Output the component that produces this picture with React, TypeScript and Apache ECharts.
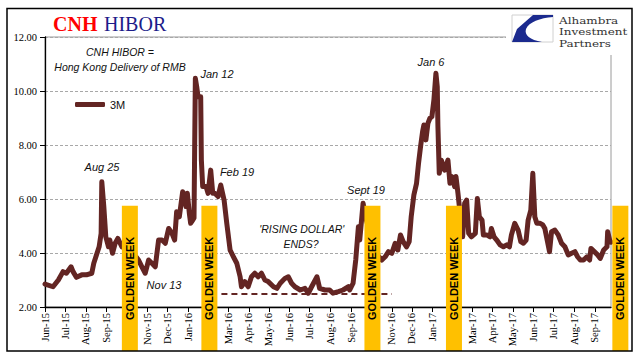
import React, { useEffect, useRef } from "react";
import * as echarts from "echarts";

// ---------- data ----------
const startDate = "2015-06-01";
const endDate = "2017-09-25";
const barsEndDate = "2017-10-23";

const dates = [
  "2015-06-01","2015-06-13","2015-06-21","2015-06-28","2015-07-03","2015-07-10","2015-07-13","2015-07-18","2015-07-26",
  "2015-08-02","2015-08-10","2015-08-13","2015-08-17","2015-08-21","2015-08-24","2015-08-25","2015-08-28","2015-08-31",
  "2015-09-04","2015-09-06","2015-09-10","2015-09-14","2015-09-18","2015-09-24","2015-09-28","2015-10-06","2015-10-14",
  "2015-10-19","2015-10-24","2015-10-29","2015-11-03","2015-11-08","2015-11-13","2015-11-18","2015-11-23","2015-11-28",
  "2015-12-03","2015-12-08","2015-12-12","2015-12-15","2015-12-19","2015-12-24","2015-12-27","2015-12-29","2015-12-31",
  "2016-01-03","2016-01-05","2016-01-08","2016-01-10","2016-01-11","2016-01-12","2016-01-14","2016-01-16","2016-01-20",
  "2016-01-21","2016-01-23","2016-01-28","2016-01-31","2016-02-04","2016-02-07","2016-02-10","2016-02-15","2016-02-19",
  "2016-02-24","2016-02-28","2016-03-04","2016-03-09","2016-03-14","2016-03-19","2016-03-21","2016-03-26","2016-03-31",
  "2016-04-05","2016-04-10","2016-04-15","2016-04-20","2016-04-25","2016-04-30","2016-05-08","2016-05-13","2016-05-18",
  "2016-05-25","2016-05-30","2016-06-04","2016-06-09","2016-06-17","2016-06-24","2016-06-29","2016-07-04","2016-07-12",
  "2016-07-16","2016-07-24","2016-07-31","2016-08-05","2016-08-13","2016-08-20","2016-08-28","2016-08-30","2016-09-04",
  "2016-09-08","2016-09-12","2016-09-14","2016-09-19","2016-09-23","2016-10-01","2016-10-08","2016-10-17","2016-10-22",
  "2016-10-27","2016-11-01","2016-11-06","2016-11-10","2016-11-14","2016-11-18","2016-11-23","2016-11-27","2016-11-30",
  "2016-12-04","2016-12-08","2016-12-11","2016-12-14","2016-12-17","2016-12-19","2016-12-22","2016-12-25","2016-12-28",
  "2016-12-31","2017-01-03","2017-01-06","2017-01-08","2017-01-09","2017-01-11","2017-01-14","2017-01-19","2017-01-24",
  "2017-01-27","2017-01-30","2017-02-03","2017-02-05","2017-02-08","2017-02-11","2017-02-14","2017-02-15","2017-02-18",
  "2017-02-21","2017-02-24","2017-02-28","2017-03-06","2017-03-09","2017-03-12","2017-03-16","2017-03-18","2017-03-23",
  "2017-03-28","2017-03-30","2017-04-03","2017-04-07","2017-04-12","2017-04-17","2017-04-22","2017-04-26","2017-04-29",
  "2017-05-04","2017-05-09","2017-05-13","2017-05-17","2017-05-21","2017-05-24","2017-05-28","2017-05-31","2017-06-03",
  "2017-06-06","2017-06-11","2017-06-15","2017-06-18","2017-06-22","2017-06-25","2017-06-28","2017-07-03","2017-07-08",
  "2017-07-13","2017-07-18","2017-07-23","2017-07-28","2017-08-02","2017-08-06","2017-08-10","2017-08-15","2017-08-20",
  "2017-08-24","2017-08-26","2017-08-31","2017-09-05","2017-09-09","2017-09-14","2017-09-19","2017-09-20","2017-09-23",
  "2017-09-25",
];

const hibor3M = [
  2.85,2.75,3.0,3.31,3.25,3.49,3.31,3.10,3.19,
  3.19,3.25,3.62,3.93,4.23,4.73,6.64,5.72,4.6,
  4.23,4.48,3.99,4.36,4.54,4.23,4.3,4.1,3.9,
  3.74,3.49,3.25,3.74,3.62,3.49,4.48,4.48,4.36,
  4.91,4.73,4.48,5.53,5.34,6.27,6.09,5.72,6.21,
  5.47,5.1,5.22,5.3,8.0,10.47,10.16,9.79,9.79,
  7.44,6.46,6.46,6.21,7.07,6.21,6.21,6.09,6.52,
  5.96,5.1,4.11,3.86,3.62,3.12,2.75,2.94,2.75,
  3.12,3.25,3.12,3.25,3.0,2.94,2.75,2.69,2.88,
  3.06,3.12,2.88,2.75,2.63,2.69,2.51,2.75,3.12,
  2.69,2.63,2.63,2.51,2.57,2.63,2.75,2.63,2.88,
  3.74,4.97,4.48,5.84,5.3,4.6,4.0,3.74,3.86,
  4.05,3.99,4.36,4.11,4.67,4.42,4.23,4.42,5.34,
  6.15,6.58,7.32,7.94,8.49,8.74,8.19,8.8,8.99,
  9.05,9.67,10.66,10.16,8.68,6.95,7.44,7.07,7.44,
  6.58,6.83,6.46,6.83,6.21,5.5,5.0,4.6,5.84,
  5.96,4.73,4.6,4.73,6.02,5.34,5.22,4.67,4.67,
  4.6,4.91,4.6,4.48,4.30,4.23,4.30,4.23,4.67,
  5.1,4.85,4.42,4.36,4.48,5.22,5.59,6.95,5.34,
  5.1,5.1,5.04,4.91,4.42,4.05,4.79,4.85,4.67,
  4.36,4.23,3.93,3.99,4.05,3.86,3.74,3.74,3.86,
  3.74,4.17,4.05,3.93,3.8,4.11,4.23,4.79,4.48,
  4.4,
];

const goldenWeekDates = ["2015-10-06", "2016-02-02", "2016-10-03", "2017-02-02", "2017-10-09"];
const goldenWeekTop = 5.75;
const goldenWeekLabel = "GOLDEN WEEK";

const dollarFloor = { from: "2016-02-20", to: "2016-11-01", value: 2.5 };

const monthNames = ["Jan", "Feb", "Mar", "Apr", "May", "Jun", "Jul", "Aug", "Sep", "Oct", "Nov", "Dec"];
const hiddenLabelMonths = ["10", "02"];

const yMin = 2;
const yMax = 12;
const yInterval = 2;

const seriesName = "3M";
const logoLines = ["Alhambra", "Investment", "Partners"];

// ---------- helpers ----------
function dayRange(start: string, end: string): string[] {
  const out: string[] = [];
  const s = new Date(start + "T00:00:00Z").getTime();
  const e = new Date(end + "T00:00:00Z").getTime();
  for (let t = s; t <= e; t += 86400000) {
    out.push(new Date(t).toISOString().slice(0, 10));
  }
  return out;
}

const days = dayRange(startDate, endDate);
const barDays = dayRange(startDate, barsEndDate);

const GRID_LEFT = 45;
const GRID_TOP = 37;
const GRID_W = 566;
const GRID_H = 270;
const PX_PER_UNIT = GRID_H / (yMax - yMin);
const FRAME_BOTTOM = 351;
const grid2H = FRAME_BOTTOM - GRID_TOP;
const grid2W = ((barDays.length - 1) * GRID_W) / (days.length - 1);
const grid2Min = yMax - grid2H / PX_PER_UNIT;

const LINE_COLOR = "#632523";
const SANS = "'Liberation Sans', Arial, sans-serif";
const SERIF = "'Liberation Serif', 'Times New Roman', serif";
const LOGO_FONT = "10px 'DejaVu Serif', serif";

const logoPath = "M41 0 L21 0 L5 14 L0 27 L30 27 C18 25 12 20 14 14 C17 7 28 3 41 2 Z";

export default function App() {
  const ref = useRef<HTMLDivElement>(null);

  useEffect(() => {
    if (!ref.current) return;
    try {
      echarts.graphic.registerShape("logo", echarts.graphic.extendPath(logoPath, {}) as any);
    } catch (e) {}
    const chart = echarts.init(ref.current, undefined, { renderer: "svg" });

    const note = (text: string, x: number, y: number, size = 11) => ({
      type: "text",
      x,
      y,
      z: 50,
      style: {
        text,
        fill: "#111",
        font: `italic ${size}px ${SANS}`,
        align: "center",
        verticalAlign: "middle",
      },
    });

    const option: any = {
      animation: false,
      backgroundColor: "#fff",
      grid: [
        {
          left: GRID_LEFT,
          top: GRID_TOP,
          width: GRID_W,
          height: GRID_H,
          show: true,
          borderColor: "#9a9a9a",
          borderWidth: 1,
          backgroundColor: "transparent",
        },
        { left: GRID_LEFT, top: GRID_TOP, width: grid2W, height: grid2H, show: false },
      ],
      legend: {
        data: [{ name: seriesName, icon: "roundRect" }],
        left: 70,
        top: 94,
        itemWidth: 30,
        itemHeight: 5,
        textStyle: { fontFamily: SANS, fontSize: 11, color: "#111" },
      },
      xAxis: [
        {
          type: "category",
          gridIndex: 0,
          data: days,
          boundaryGap: false,
          axisLine: { lineStyle: { color: "#000", width: 1.3 } },
          axisTick: {
            length: 5,
            lineStyle: { color: "#000" },
            interval: (i: number, v: string) => v.slice(8) === "01",
          },
          axisLabel: {
            rotate: 90,
            margin: 6,
            fontFamily: SERIF,
            fontSize: 10.5,
            color: "#000",
            interval: (i: number, v: string) =>
              v.slice(8) === "01" && !hiddenLabelMonths.includes(v.slice(5, 7)),
            formatter: (v: string) => `${monthNames[+v.slice(5, 7) - 1]}-${v.slice(2, 4)}`,
          },
          splitLine: { show: false },
        },
        {
          type: "category",
          gridIndex: 1,
          data: barDays,
          boundaryGap: false,
          show: false,
        },
      ],
      yAxis: [
        {
          type: "value",
          gridIndex: 0,
          min: yMin,
          max: yMax,
          interval: yInterval,
          axisLine: { show: true, lineStyle: { color: "#000", width: 1.3 } },
          axisTick: { show: true, length: 5, lineStyle: { color: "#000" } },
          axisLabel: {
            margin: 8,
            fontFamily: SERIF,
            fontSize: 10.5,
            color: "#000",
            formatter: (v: number) => v.toFixed(2),
          },
          splitLine: { show: true, lineStyle: { color: "#a8a8a8", type: [3, 2], width: 1 } },
        },
        {
          type: "value",
          gridIndex: 1,
          min: grid2Min,
          max: yMax,
          show: false,
          splitLine: { show: false },
        },
      ],
      series: [
        {
          name: seriesName,
          type: "line",
          xAxisIndex: 0,
          yAxisIndex: 0,
          data: dates.map((d, i) => [d, hibor3M[i]]),
          symbol: "none",
          color: LINE_COLOR,
          lineStyle: { color: LINE_COLOR, width: 5, join: "round", cap: "round" },
          z: 2,
          markLine: {
            silent: true,
            symbol: "none",
            label: { show: false },
            lineStyle: { color: LINE_COLOR, type: [6, 4], width: 2 },
            data: [
              [
                { coord: [dollarFloor.from, dollarFloor.value] },
                { coord: [dollarFloor.to, dollarFloor.value] },
              ],
            ],
          },
        },
        {
          name: "Golden Week",
          type: "bar",
          xAxisIndex: 1,
          yAxisIndex: 1,
          data: goldenWeekDates.map((d) => [d, goldenWeekTop]),
          barWidth: 16,
          itemStyle: { color: "#FFC000" },
          z: 5,
          label: {
            show: true,
            position: "inside",
            rotate: 90,
            formatter: goldenWeekLabel,
            color: "#000",
            fontWeight: "bold",
            fontSize: 11,
            fontFamily: SANS,
          },
        },
      ],
      graphic: [
        // outer frame
        {
          type: "rect",
          z: 100,
          shape: { x: 7, y: 8.5, width: 625, height: 342.5 },
          style: { fill: "none", stroke: "#000", lineWidth: 1.5 },
        },
        // title
        {
          type: "text",
          x: 53,
          y: 24,
          z: 50,
          style: {
            text: "CNH",
            fill: "#ff0000",
            font: `bold 20px ${SERIF}`,
            verticalAlign: "middle",
          },
        },
        {
          type: "text",
          x: 104,
          y: 24,
          z: 50,
          style: {
            text: "HIBOR",
            fill: "#1c1c8a",
            font: `20px ${SERIF}`,
            verticalAlign: "middle",
          },
        },
        // logo box
        {
          type: "rect",
          z: 60,
          shape: { x: 506, y: 10, width: 124, height: 45 },
          style: { fill: "#fff", stroke: "none" },
        },
        {
          type: "rect",
          z: 61,
          shape: { x: 512, y: 15, width: 41, height: 27 },
          style: { fill: "#fff", stroke: "#d0d0d0", lineWidth: 1 },
        },
        {
          type: "logo",
          z: 62,
          x: 512,
          y: 15,
          style: { fill: "#1b2a8e" },
        },
        ...logoLines.map((t, i) => ({
          type: "text",
          x: 559,
          y: 20.5 + i * 11.8,
          scaleX: 1.2,
          z: 62,
          style: { text: t, fill: "#333", font: LOGO_FONT, verticalAlign: "middle" },
        })),
        // notes
        note("CNH HIBOR =", 120, 52, 10.5),
        note("Hong Kong Delivery of RMB", 120, 67, 10.5),
        note("Aug 25", 102, 167),
        note("Nov 13", 164, 285),
        note("Jan 12", 217, 74),
        note("Feb 19", 237, 172),
        note("'RISING DOLLAR'", 301.7, 229, 10.5),
        note("ENDS?", 301, 243.5, 10.5),
        note("Sept 19", 366, 190),
        note("Jan 6", 431, 62),
      ],
    };

    chart.setOption(option);
    return () => chart.dispose();
  }, []);

  return (
    <div
      ref={ref}
      style={{ position: "fixed", left: 0, top: 0, width: 641, height: 361, background: "#fff" }}
    />
  );
}
